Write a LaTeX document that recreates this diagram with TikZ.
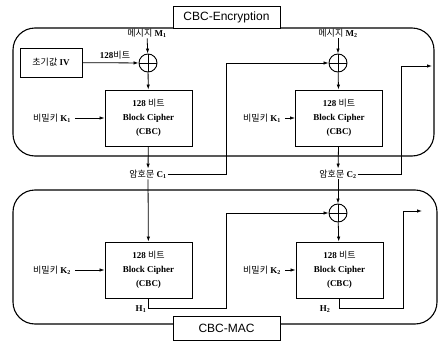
\documentclass[tikz,border=0pt]{standalone}
\usepackage{fontspec}
\setmainfont{Liberation Serif}
\setsansfont{Liberation Sans}
\newfontfamily\krfont{Noto Sans CJK KR}
\usetikzlibrary{arrows.meta,positioning}
\newcommand{\kr}[1]{{\krfont\mdseries #1}}

\begin{document}
\begin{tikzpicture}[x=1pt,y=-1pt,
  cipherbox/.style={draw,line width=0.9pt,minimum width=87pt,minimum height=56pt,align=center,font=\fontsize{9}{14}\selectfont\bfseries},
  xorop/.style={draw,circle,line width=0.9pt,minimum size=18pt,inner sep=0pt,
    path picture={\draw[line width=0.9pt] (path picture bounding box.north) -- (path picture bounding box.south)
      (path picture bounding box.west) -- (path picture bounding box.east);}},
  txt/.style={font=\fontsize{9}{11}\selectfont,inner sep=1pt},
  keytxt/.style={txt,inner sep=4pt},
  tagbox/.style={draw,fill=white,line width=0.9pt,font=\sffamily\fontsize{12}{14}\selectfont,minimum width=107pt,minimum height=22pt},
  frame/.style={draw,line width=1.1pt,rounded corners=22pt},
  arrow/.style={-{Latex[length=5pt,width=3.5pt]},line width=0.8pt}
]
  \useasboundingbox (0,0) rectangle (440,343);

  % frames and tags
  \draw[frame] (13,28) rectangle (434,156);
  \draw[frame] (13,190) rectangle (437,324);
  \node[tagbox] (encTag) at (226.5,17) {CBC-Encryption};
  \node[tagbox,minimum height=24pt] (macTag) at (226.5,328) {CBC-MAC};

  % CBC encryption
  \node[txt] (msgA) at (147,33) {\kr{메시지} \textbf{M\textsubscript{1}}};
  \node[draw,line width=0.9pt,minimum width=62pt,minimum height=29pt,txt] (ivBox) at (51,62.5) {\kr{초기값} \textbf{IV}};
  \node[xorop] (xorA) at (148,63) {};
  \node[txt] (bitsA) at (115,55) {\textbf{128}\kr{비트}};
  \node[cipherbox] (cipherA) at (148.5,118) {128 \kr{비트}\\Block Cipher\\(CBC)};
  \node[keytxt] (keyA) at (52,118) {\kr{비밀키} \textbf{K\textsubscript{1}}};
  \node[txt] (cipherOutA) at (148,174) {\kr{암호문} \textbf{C\textsubscript{1}}};

  \node[txt] (msgB) at (338,33) {\kr{메시지} \textbf{M\textsubscript{2}}};
  \node[xorop] (xorB) at (338,63) {};
  \node[cipherbox] (cipherB) at (339,118) {128 \kr{비트}\\Block Cipher\\(CBC)};
  \node[keytxt] (keyB) at (262,118) {\kr{비밀키} \textbf{K\textsubscript{1}}};
  \node[txt] (cipherOutB) at (338,174) {\kr{암호문} \textbf{C\textsubscript{2}}};

  % CBC-MAC
  \node[cipherbox] (cipherC) at (148.5,270) {128 \kr{비트}\\Block Cipher\\(CBC)};
  \node[keytxt] (keyC) at (52,270) {\kr{비밀키} \textbf{K\textsubscript{2}}};
  \node[txt] (hashA) at (141,309) {\textbf{H\textsubscript{1}}};
  \node[xorop] (xorC) at (338,213) {};
  \node[cipherbox] (cipherD) at (339.5,270) {128 \kr{비트}\\Block Cipher\\(CBC)};
  \node[keytxt] (keyD) at (262,270) {\kr{비밀키} \textbf{K\textsubscript{2}}};
  \node[txt] (hashB) at (325,309) {\textbf{H\textsubscript{2}}};

  \coordinate (riseA) at (226,0);
  \coordinate (riseB) at (401,0);
  \coordinate (riseD) at (403,0);
  \coordinate (bendC) at (0,308);
  \coordinate (outA) at (432,66);
  \coordinate (outB) at (422,211);

  \draw[arrow] (msgA) -- (xorA);
  \draw[arrow] (ivBox) -- (xorA);
  \draw[arrow] (xorA) -- (cipherA);
  \draw[arrow] (keyA) -- (cipherA);
  \draw[arrow] (cipherA) -- (cipherOutA);
  \draw[arrow] (cipherOutA.east) -- (cipherOutA.east -| riseA) |- (xorB.west);
  \draw[arrow] (msgB) -- (xorB);
  \draw[arrow] (xorB) -- (cipherB);
  \draw[arrow] (keyB) -- (cipherB);
  \draw[arrow] (cipherB) -- (cipherOutB);
  \draw[arrow] (cipherOutB.east) -- (cipherOutB.east -| riseB) |- (outA);

  \draw[arrow] (cipherOutA) -- (cipherC);
  \draw[arrow] (keyC) -- (cipherC);
  \draw[arrow] (cipherC.south) |- (riseA |- bendC) |- (xorC.west);
  \draw[arrow] (cipherOutB) -- (xorC);
  \draw[arrow] (xorC) -- (cipherD);
  \draw[arrow] (keyD) -- (cipherD);
  \draw[arrow] (cipherD.south) |- (riseD |- bendC) |- (outB);
\end{tikzpicture}
\end{document}
